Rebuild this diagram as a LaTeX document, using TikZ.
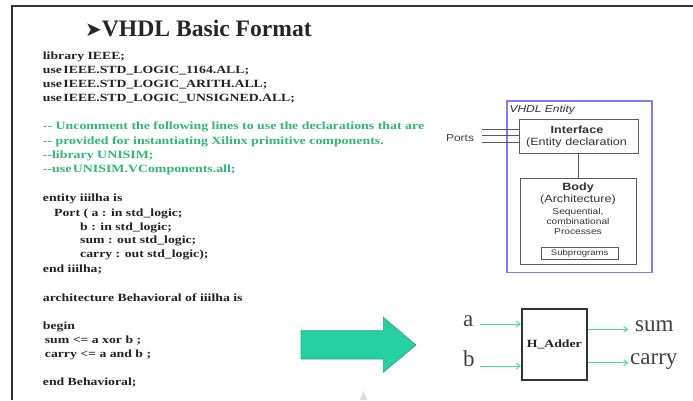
\documentclass[tikz,border=0pt]{standalone}
\usepackage{fontspec}
\setmainfont{Liberation Serif}
\newfontfamily\codefont[FakeStretch=1.25]{Liberation Serif}
\newfontfamily\diag[FakeStretch=1.2]{Liberation Sans}
\newfontfamily\symfont{DejaVu Sans}
\usetikzlibrary{arrows.meta}
\definecolor{codec}{RGB}{38,32,32}
\definecolor{cmt}{RGB}{48,184,112}
\definecolor{bigar}{RGB}{38,208,160}
\definecolor{bigaredge}{RGB}{30,170,130}
\definecolor{thinar}{RGB}{70,215,175}
\definecolor{entblue}{RGB}{125,125,250}
\definecolor{frame}{RGB}{50,50,50}
\definecolor{boxc}{RGB}{90,90,90}
\begin{document}
\begin{tikzpicture}[x=1pt,y=-1pt,
  code/.style={anchor=base west, inner sep=0pt, text=codec, font=\codefont\bfseries\fontsize{11}{12}\selectfont},
  cmtx/.style={anchor=base west, inner sep=0pt, text=cmt, font=\codefont\bfseries\fontsize{11.1}{13}\selectfont},
  dtext/.style={anchor=base, inner sep=0pt, text=black!80},
  dbox/.style={draw=boxc, line width=0.9pt, inner sep=0pt},
  pline/.style={draw=black!65, line width=0.8pt},
  big/.style={anchor=base west, inner sep=0pt, text=black!75, font=\fontsize{23}{26}\selectfont},
  ar/.style={draw=thinar, line width=0.9pt, -{Straight Barb[length=4pt,width=6pt]}}
]
\useasboundingbox (0,0) rectangle (693,400);
\fill[white] (0,0) rectangle (693,400);
% frame
\draw[frame, line width=2pt] (12,400) -- (12,6) -- (693,6);

% title
\node[anchor=base west, inner sep=0pt, text=black!85] (title) at (85,36.7)
  {{\symfont\fontsize{20}{20}\selectfont ➤}{\bfseries\fontsize{23.6}{26}\selectfont VHDL Basic Format}};

% code
\node[code] (l1) at (42.7,59) {library IEEE;};
\node[code] (l2) at (42.7,73) {use\hspace{1.5pt}IEEE.STD\_LOGIC\_1164.ALL;};
\node[code] (l3) at (42.7,87) {use\hspace{1.5pt}IEEE.STD\_LOGIC\_ARITH.ALL;};
\node[code] (l4) at (42.7,101) {use\hspace{1.5pt}IEEE.STD\_LOGIC\_UNSIGNED.ALL;};

\node[cmtx] (c1) at (42.7,129.3) {{-}{-} Uncomment the following lines to use the declarations that are};
\node[cmtx] (c2) at (42.7,144) {{-}{-} provided for instantiating Xilinx primitive components.};
\node[cmtx] (c3) at (42.7,158.3) {{-}{-}library UNISIM;};
\node[cmtx] (c4) at (42.7,172.7) {{-}{-}use\hspace{1.5pt}UNISIM.VComponents.all;};

\node[code] (e1) at (42.7,201.7) {entity iiilha is};
\node[code] (e2) at (54,216) {Port ( a : in std\_logic;};
\node[code] (e3) at (80,230) {b : in std\_logic;};
\node[code] (e4) at (80,243.5) {sum : out std\_logic;};
\node[code] (e5) at (80,257.5) {carry : out std\_logic);};
\node[code] (e6) at (42.7,272) {end iiilha;};

\node[code] (a1) at (42.7,301) {architecture Behavioral of iiilha is};
\node[code] (a2) at (42.7,329.3) {begin};
\node[code] (a3) at (44.7,343.3) {sum <= a xor b ;};
\node[code] (a4) at (44.7,357.7) {carry <= a and b ;};
\node[code] (a5) at (42.7,385) {end Behavioral;};

% big arrow
\filldraw[fill=bigar, draw=bigaredge, line width=0.6pt]
  (301,330.7) -- (383.3,330.7) -- (383.3,317.3) -- (416,345) -- (383.3,372.3) -- (383.3,359) -- (301,359) -- cycle;

% small grey mark
\fill[gray!30] (360,400) -- (363.5,391) -- (367,400) -- cycle;

% VHDL entity diagram
\node[draw=entblue, line width=1.6pt, minimum width=145, minimum height=171.5, anchor=north west, inner sep=0pt] (ent) at (506,100) {};
\node[anchor=base west, inner sep=0pt, text=black!80, font=\diag\itshape\fontsize{10}{12}\selectfont] (entlab) at (509.3,112.7) {VHDL Entity};

\node[dbox, minimum width=118.7, minimum height=34] (iface) at (578.6,136.3) {};
\node[dtext, font=\diag\bfseries\fontsize{10.5}{12}\selectfont] (ifl1) at (577,133) {Interface};
\node[dtext, font=\diag\fontsize{10.5}{12}\selectfont] (ifl2) at (576.5,145) {(Entity declaration};

\node[dbox, minimum width=116, minimum height=85.3] (body) at (578.6,221.3) {};
\node[dtext, font=\diag\bfseries\fontsize{10.5}{12}\selectfont] (bl1) at (578,190.7) {Body};
\node[dtext, font=\diag\fontsize{10.5}{12}\selectfont] (bl2) at (578,202.3) {(Architecture)};
\node[dtext, font=\diag\fontsize{8.5}{10}\selectfont] (bl3) at (578,214) {Sequential,};
\node[dtext, font=\diag\fontsize{8.5}{10}\selectfont] (bl4) at (578,224.3) {combinational};
\node[dtext, font=\diag\fontsize{8.5}{10}\selectfont] (bl5) at (578,234.3) {Processes};
\node[dbox, minimum width=77.3, minimum height=11.3, font=\diag\fontsize{8}{9}\selectfont, text=black!80] (sub) at (579.7,253.3) {Subprograms};

\draw[pline] (iface.south) -- (body.north);
\node[anchor=center, inner sep=0pt, text=black!75, font=\diag\fontsize{10}{12}\selectfont] (ports) at (460,138.3) {Ports};
\coordinate (p1) at (481.7,129);
\coordinate (p2) at (481.7,135.7);
\coordinate (p3) at (481.7,142.3);
\draw[pline] (p1) -- (p1 -| iface.west);
\draw[pline] (p2) -- (p2 -| iface.west);
\draw[pline] (p3) -- (p3 -| iface.west);

% H_Adder
\node[draw=black!80, line width=2pt, minimum width=64.7, minimum height=71, inner sep=0pt,
  font=\codefont\bfseries\fontsize{11}{12}\selectfont, text=codec] (ha) at (554.3,344.5) {H\_Adder};
\node[big] (ina) at (463,326.2) {a};
\node[big] (inb) at (463,366.7) {b};
\node[big] (osum) at (635,331.7) {sum};
\node[big] (ocar) at (630,364) {carry};
\coordinate (aa) at (480,324);
\coordinate (bb) at (480,366);
\coordinate (ss) at (628.3,329.3);
\coordinate (cc) at (628.3,362.7);
\draw[ar] (aa) -- (aa -| ha.west);
\draw[ar] (bb) -- (bb -| ha.west);
\draw[ar] (ss -| ha.east) -- (ss);
\draw[ar] (cc -| ha.east) -- (cc);
\end{tikzpicture}
\end{document}
